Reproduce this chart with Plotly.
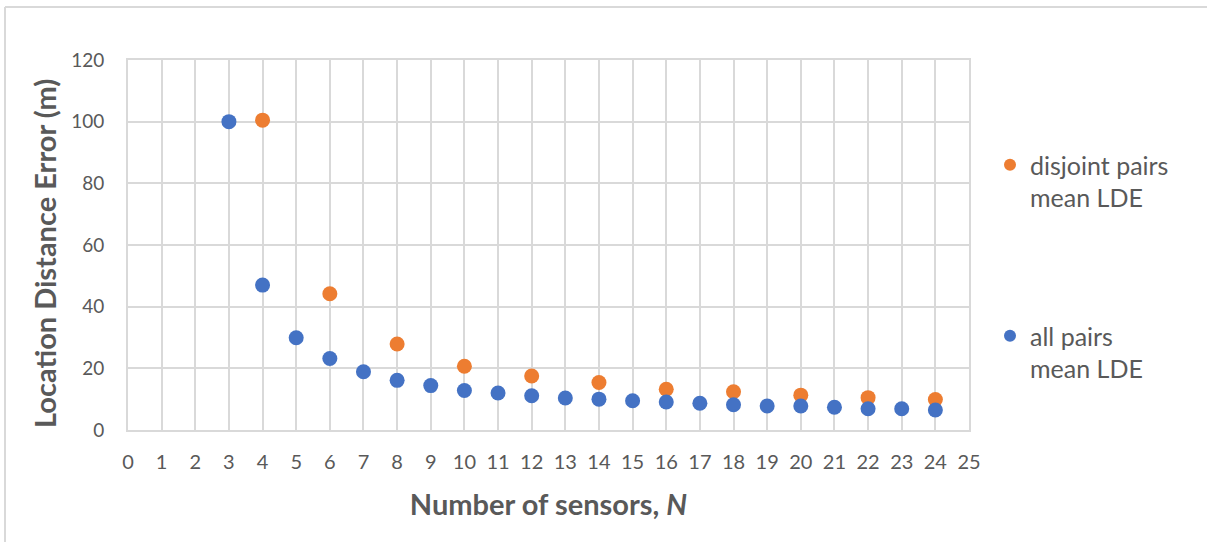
import plotly.graph_objects as go

# Number of sensors N and mean location distance error (m) per pairing scheme
n_all = [3, 4, 5, 6, 7, 8, 9, 10, 11, 12, 13, 14, 15, 16, 17, 18, 19, 20, 21, 22, 23, 24]
lde_all = [100.0, 47.0, 29.9, 23.2, 18.9, 16.1, 14.4, 12.8, 12.0, 11.1, 10.4, 10.0,
           9.5, 9.1, 8.7, 8.2, 7.8, 7.8, 7.4, 6.9, 6.9, 6.5]

n_disjoint = [4, 6, 8, 10, 12, 14, 16, 18, 20, 22, 24]
lde_disjoint = [100.5, 44.2, 27.9, 20.7, 17.5, 15.4, 13.2, 12.4, 11.3, 10.5, 9.9]

x_ticks = list(range(0, 26))
y_ticks = [0, 20, 40, 60, 80, 100, 120]

BLUE = "#4472C4"
ORANGE = "#ED7D31"
GRID = "#D9D9D9"
TEXT = "#595959"
FONT = "Lato, 'Open Sans', sans-serif"

W, H = 1207, 542
L, R, T, B = 128, 238, 60, 112
pw, ph = W - L - R, H - T - B


def px_x(p):
    return (p - L) / pw


def px_y(p):
    return (H - B - p) / ph


fig = go.Figure()
fig.add_trace(go.Scatter(
    x=n_disjoint, y=lde_disjoint, mode="markers",
    name="disjoint pairs<br>mean LDE",
    marker=dict(color=ORANGE, size=15),
    legend="legend", showlegend=True,
))
fig.add_trace(go.Scatter(
    x=n_all, y=lde_all, mode="markers",
    name="all pairs<br>mean LDE",
    marker=dict(color=BLUE, size=15),
    legend="legend2", showlegend=True,
))

legend_style = dict(
    xanchor="left", yanchor="top", valign="top",
    font=dict(family=FONT, size=25, color=TEXT),
    bgcolor="rgba(0,0,0,0)", itemsizing="constant",
)

fig.update_layout(
    width=W, height=H,
    showlegend=True,
    margin=dict(l=L, r=R, t=T, b=B),
    paper_bgcolor="white", plot_bgcolor="white",
    font=dict(family=FONT, color=TEXT),
    legend=dict(x=px_x(990), y=px_y(142), **legend_style),
    legend2=dict(x=px_x(990), y=px_y(313), **legend_style),
    xaxis=dict(
        range=[0, 25], tickvals=x_ticks, ticktext=[str(v) for v in x_ticks],
        showgrid=True, gridcolor=GRID, gridwidth=2,
        showline=True, linecolor=GRID, linewidth=2, mirror=True,
        zeroline=False, ticks="", ticklabelstandoff=13,
        tickfont=dict(family=FONT, size=20, color=TEXT),
        title=dict(text="<b>Number of sensors, <i>N</i></b>", standoff=23,
                   font=dict(family=FONT, size=29, color=TEXT)),
    ),
    yaxis=dict(
        range=[0, 120], tickvals=y_ticks,
        showgrid=True, gridcolor=GRID, gridwidth=2,
        showline=True, linecolor=GRID, linewidth=2, mirror=True,
        zeroline=False, ticks="", ticklabelstandoff=18,
        tickfont=dict(family=FONT, size=19, color=TEXT),
    ),
    annotations=[
        dict(text="<b>Location Distance Error (m)</b>", textangle=-90,
             xref="paper", yref="paper", x=px_x(44), y=px_y(254),
             xanchor="center", yanchor="middle", showarrow=False,
             font=dict(family=FONT, size=29, color=TEXT)),
    ],
    shapes=[
        dict(type="line", xref="paper", yref="paper",
             x0=px_x(5), x1=px_x(W + 5), y0=px_y(7), y1=px_y(7),
             line=dict(color=GRID, width=2)),
        dict(type="line", xref="paper", yref="paper",
             x0=px_x(5), x1=px_x(5), y0=px_y(7), y1=px_y(H + 5),
             line=dict(color=GRID, width=2)),
    ],
)

fig.write_html("out.html")
